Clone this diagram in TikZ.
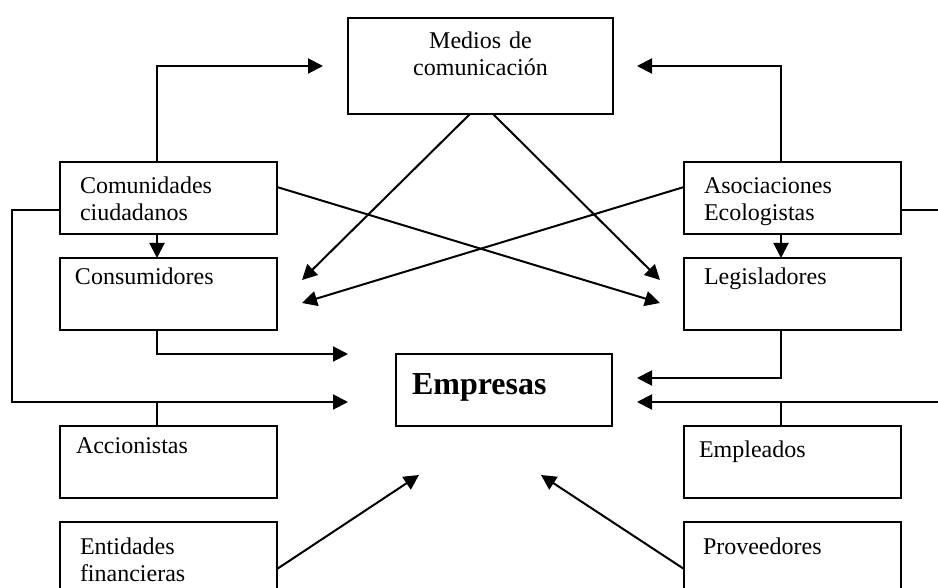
\documentclass[tikz,border=0pt]{standalone}
\usepackage{fontspec}
\setmainfont{Liberation Serif}
\usetikzlibrary{arrows.meta}

\tikzset{
  caja/.style={draw, line width=1pt, outer sep=0pt, inner ysep=0pt, anchor=north west,
    align=left, minimum width=108.5pt, font=\fontsize{12pt}{13.5pt}\selectfont},
  arriba/.style={text height=13.5pt, text depth=22.5pt},
  abajo/.style={text height=16pt, text depth=20pt},
  flecha/.style={line width=1pt, -{Triangle[length=7.5pt,width=7.5pt]}},
  linea/.style={line width=1pt}
}

\begin{document}
\begin{tikzpicture}[x=0.5pt,y=-0.5pt]
    \useasboundingbox (0,0) rectangle (938,588);
    \clip (0,0) rectangle (938,588);

    \node[caja,align=center,minimum width=132.5pt,inner xsep=5pt,text width=122.5pt,
      text height=15.5pt,text depth=32.5pt] (medios) at (348,18) {Medios de\\comunicación};
    \node[caja,abajo,inner xsep=10pt,text width=88.5pt] (comunidades) at (60,162) {Comunidades\\ciudadanos};
    \node[caja,arriba,inner xsep=7.5pt,text width=93.5pt] (consumidores) at (60,258) {Consumidores};
    \node[caja,arriba,inner xsep=8pt,text width=92.5pt] (accionistas) at (60,426) {Accionistas};
    \node[caja,abajo,inner xsep=10pt,text width=88.5pt] (entidades) at (60,522) {Entidades\\financieras};
    \node[caja,abajo,inner xsep=10pt,text width=88.5pt] (asociaciones) at (684,162) {Asociaciones\\Ecologistas};
    \node[caja,arriba,inner xsep=10pt,text width=88.5pt] (legisladores) at (684,258) {Legisladores};
    \node[caja,abajo,inner xsep=7.5pt,text width=93.5pt] (empleados) at (684,426) {Empleados};
    \node[caja,abajo,inner xsep=9.5pt,text width=89.5pt] (proveedores) at (684,522) {Proveedores};
    \node[caja,minimum width=108pt,inner xsep=8pt,text width=92pt,text height=20pt,text depth=16pt,
      font=\fontsize{16pt}{18pt}\selectfont\bfseries] (empresas) at (396,354) {Empresas};

    \draw[flecha] ([xshift=48.5pt]comunidades.north west) |- ([xshift=-12.5pt]medios.west);
    \draw[flecha] ([xshift=48.5pt]asociaciones.north west) |- ([xshift=12pt]medios.east);
    \draw[flecha] ([xshift=48.5pt]comunidades.south west) -- ([xshift=48.5pt]consumidores.north west);
    \draw[flecha] ([xshift=48.5pt]asociaciones.south west) -- ([xshift=48.5pt]legisladores.north west);

    \draw[flecha] ([xshift=61pt]medios.south west) -- ([xshift=12.5pt,yshift=-11pt]consumidores.north east);
    \draw[flecha] ([xshift=72.5pt]medios.south west) -- ([xshift=-12pt,yshift=-11pt]legisladores.north west);
    \draw[flecha] ([yshift=-12.5pt]comunidades.north east) -- ([xshift=-12pt,yshift=-22.5pt]legisladores.north west);
    \draw[flecha] ([yshift=-12.5pt]asociaciones.north west) -- ([xshift=12.5pt,yshift=-22.5pt]consumidores.north east);

    \draw[flecha] ([xshift=48.5pt]consumidores.south west) |- ([xshift=-24pt]empresas.north west);
    \draw[flecha] ([xshift=48.5pt]legisladores.south west) |- ([xshift=12.5pt,yshift=-12pt]empresas.north east);
    \draw[flecha] ([yshift=12pt]comunidades.south west) -- ++(-24pt,0) |- ([xshift=-24pt,yshift=12pt]empresas.south west);
    \draw[flecha] ([yshift=12pt]asociaciones.south east) -- ++(24pt,0) |- ([xshift=12.5pt,yshift=12pt]empresas.south east);
    \draw[linea] ([xshift=48.5pt]accionistas.north west) -- ++(0,12pt);
    \draw[linea] ([xshift=48.5pt]empleados.north west) -- ++(0,12pt);

    \draw[flecha] ([yshift=-23.5pt]entidades.north east) -- ([xshift=11.5pt,yshift=-24.5pt]empresas.south west);
    \draw[flecha] ([yshift=-23.5pt]proveedores.north west) -- ([xshift=-35.5pt,yshift=-24.5pt]empresas.south east);
\end{tikzpicture}
\end{document}
